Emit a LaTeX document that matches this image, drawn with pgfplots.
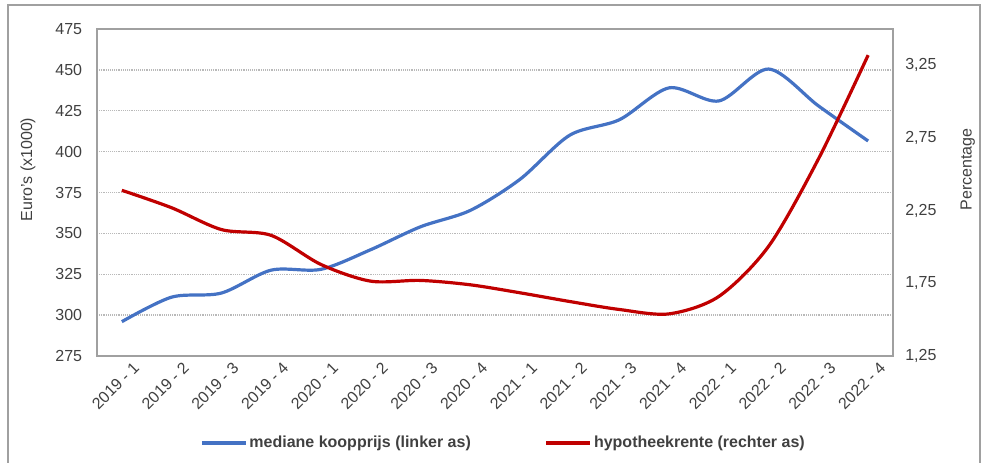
\documentclass[border=0pt]{standalone}
\usepackage{fontspec}
\setmainfont{Liberation Sans}
\usepackage{pgfplots}
\pgfplotsset{compat=1.18}

\definecolor{koopblauw}{HTML}{4472C4}
\definecolor{renterood}{HTML}{C00000}
\definecolor{tekstgrijs}{HTML}{404040}
\definecolor{kadergrijs}{HTML}{A0A0A0}

% kwartalen op 0..15, namen als ticklabels
\pgfplotstableread{
x prijs rente
0  296.0 2.39
1  311.0 2.27
2  313.5 2.12
3  327.5 2.08
4  328.0 1.88
5  340.0 1.765
6  354.0 1.77
7  364.0 1.74
8  383.0 1.685
9  410.0 1.625
10 419.5 1.57
11 439.0 1.54
12 431.0 1.66
13 450.5 2.005
14 428.0 2.605
15 406.5 3.32
}\kwartaaldata

\pgfplotsset{
  basis/.style={
    scale only axis,
    width=597pt, height=245.25pt,
    at={(0,0)}, anchor=south west,
    xmin=-0.5, xmax=15.5,
    major tick length=0pt,
    tick label style={font=\fontsize{12}{14}\selectfont, text=tekstgrijs},
    label style={font=\fontsize{12}{14}\selectfont, text=tekstgrijs},
    /pgf/number format/assume math mode=true,
  },
}

\begin{document}
\begin{tikzpicture}
\useasboundingbox (-72.75pt,-80.25pt) rectangle (663.75pt,267pt);
\draw[kadergrijs, line width=0.9pt] (-66.75pt,-82pt) rectangle (662.25pt,263.25pt);

\begin{axis}[
  basis,
  axis line style={draw=kadergrijs, line width=0.9pt},
  ymin=275, ymax=475,
  ytick={275,300,...,475},
  xtick={0,...,15},
  xticklabels={2019 - 1,2019 - 2,2019 - 3,2019 - 4,2020 - 1,2020 - 2,2020 - 3,2020 - 4,
               2021 - 1,2021 - 2,2021 - 3,2021 - 4,2022 - 1,2022 - 2,2022 - 3,2022 - 4},
  xticklabel style={rotate=45, anchor=north east, inner sep=0pt, yshift=-8pt, xshift=3pt},
  yticklabel style={anchor=east, inner sep=0pt, xshift=-11pt},
  ymajorgrids=true,
  grid style={densely dotted, draw=gray!55, line width=1pt},
  ylabel={Euro's (x1000)},
  ylabel style={at={(axis description cs:-0.0867,0.57)}, anchor=center},
]
\addplot[koopblauw, line width=2.4pt, smooth] table[x=x, y=prijs] {\kwartaaldata};
\end{axis}

\begin{axis}[
  basis,
  axis x line=none,
  axis y line*=right,
  y axis line style={draw=kadergrijs, line width=0.9pt},
  ymin=1.25, ymax=3.5,
  ytick={1.25,1.75,2.25,2.75,3.25},
  yticklabel style={anchor=west, inner sep=0pt, xshift=9pt,
    /pgf/number format/.cd, fixed, fixed zerofill, precision=2, use comma},
  ylabel={Percentage},
  ylabel style={at={(axis description cs:1.094,0.57)}, anchor=center, rotate=0},
  legend columns=2,
  legend style={
    at={(axis description cs:0.5107,-0.266)}, anchor=center,
    draw=none, fill=none, inner sep=0pt,
    font=\fontsize{12}{14}\selectfont\bfseries, text=tekstgrijs,
    nodes={inner sep=1.5pt},
    /tikz/every even column/.append style={column sep=54pt},
  },
  legend image code/.code={\draw[#1] (0pt,0pt) -- (33pt,0pt);},
]
\addlegendimage{koopblauw, line width=2.4pt}
\addlegendentry{mediane koopprijs (linker as)}
\addplot[renterood, line width=2.4pt, smooth] table[x=x, y=rente] {\kwartaaldata};
\addlegendentry{hypotheekrente (rechter as)}
\end{axis}
\end{tikzpicture}
\end{document}
